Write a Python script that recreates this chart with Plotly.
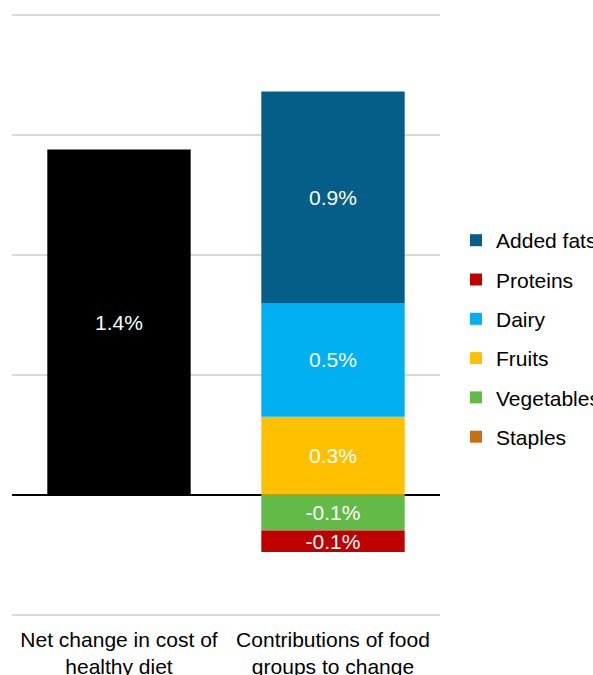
import plotly.graph_objects as go

categories = ["Net change in cost of<br>healthy diet", "Contributions of food<br>groups to change"]
net_change = 1.44
groups = ["Staples", "Vegetables", "Fruits", "Dairy", "Proteins", "Added fats"]
contrib = [0.0, -0.149, 0.325, 0.475, -0.09, 0.883]
colors = ["#C8700F", "#62BB46", "#FFC000", "#00B0F0", "#C00000", "#045E87"]

FONT = "Liberation Sans, Arial"
fig = go.Figure()
fig.add_trace(go.Bar(
    x=[categories[0]], y=[net_change], marker=dict(color="#000000", line=dict(width=0)),
    text=[f"{net_change:.1f}%"], textposition="inside", insidetextanchor="middle",
    textfont=dict(color="white", size=21, family=FONT),
    showlegend=False, name="Net change"))
n = len(groups)
for i, (g, v, c) in enumerate(zip(groups, contrib, colors)):
    fig.add_trace(go.Bar(
        x=[categories[1]], y=[v], name=g, legendgroup=g, legendrank=n - i,
        marker=dict(color=c, line=dict(width=0)),
        text=[f"{v:.1f}%" if v != 0 else ""], textposition="inside", insidetextanchor="middle",
        textfont=dict(color="white", size=21, family=FONT)))

fig.update_layout(
    width=593, height=675,
    barmode="relative", bargap=0.33,
    plot_bgcolor="white", paper_bgcolor="white",
    margin=dict(l=12, r=153, t=12.6, b=57.6),
    font=dict(family=FONT, size=21, color="#000000"),
    uniformtext=dict(minsize=21, mode="show"),
    legend=dict(x=0.769, y=0.674, xref="container", yref="container",
                xanchor="left", yanchor="top",
                traceorder="grouped", tracegroupgap=9,
                font=dict(size=21, color="#000000"), itemwidth=30),
    yaxis=dict(range=[-0.51, 2.01], tick0=0, dtick=0.5, showticklabels=False, automargin=False,
               showgrid=True, gridcolor="#D9D9D9", gridwidth=2,
               zeroline=True, zerolinecolor="#000000", zerolinewidth=1.5),
    xaxis=dict(showgrid=False, showline=False, ticks="", ticklabelstandoff=8,
               automargin=False, tickfont=dict(size=21, color="#000000")),
)
fig.write_html("out.html")
